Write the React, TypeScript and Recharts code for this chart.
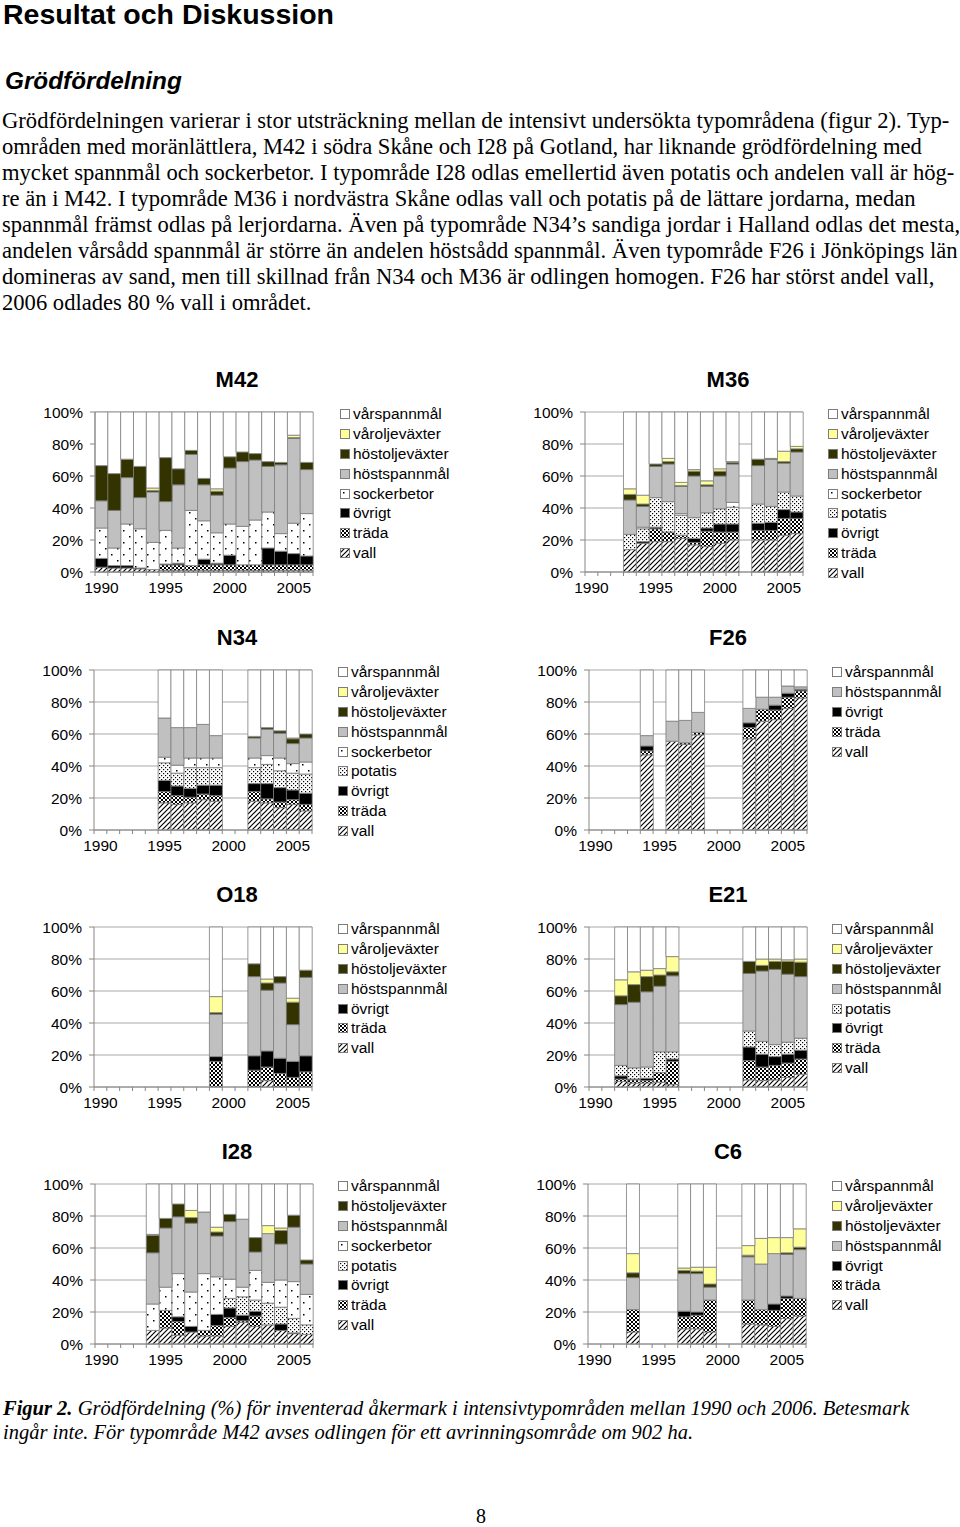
import { BarChart, Bar, XAxis, YAxis, CartesianGrid } from "recharts";

const _ = null;

const YEARS = [1990, 1991, 1992, 1993, 1994, 1995, 1996, 1997, 1998, 1999, 2000, 2001, 2002, 2003, 2004, 2005, 2006];
const LABEL_YEARS = [1990, 1995, 2000, 2005];
const Y_TICKS = [0, 20, 40, 60, 80, 100];

// M42
const M42_VALL = [3, 2.5, 2.5, 2, 1.5, 1, 1, 1, 1, 1, 1, 1, 1, 1, 1, 1, 1];
const M42_TRADA = [0, 0, 0, 0, 0, 3.5, 3.5, 3, 3.5, 3.5, 3.5, 3.5, 3.5, 3.5, 3.5, 3.5, 3.5];
const M42_OVRIGT = [5.5, 1.5, 1.5, 0.5, 0, 0.5, 1, 0, 3.5, 1, 6, 0, 0, 10.5, 8.5, 7, 5.5];
const M42_SOCKER = [19, 11, 26, 24.5, 17, 21, 9.5, 34.5, 24, 19, 19.5, 24, 28, 22.5, 11, 19, 26.5];
const M42_HOSTSP = [17, 23.5, 29, 19.5, 31.5, 18, 39.5, 35, 22.5, 23.5, 35, 40.5, 37.5, 28.5, 43, 53, 27.5];
const M42_HOSTOLJE = [22, 23, 11.5, 19.5, 1, 27.5, 10, 2.5, 4, 2.5, 7, 6, 4, 3, 1.5, 0.5, 4.5];
const M42_VAROLJE = [0, 0, 0, 0, 1.5, 0, 0, 0, 0, 1.5, 0, 0, 0, 0, 0, 1.5, 0];
const M42_VARSP = [33.5, 38.5, 29.5, 34, 47.5, 28.5, 35.5, 24, 41.5, 48, 28, 25, 26, 31, 31.5, 14.5, 31.5];

// M36
const M36_VALL = [_, _, _, 14, 18, 19, 19, 21, 17, 16, 18, 20, _, 20, 20, 23, 24];
const M36_TRADA = [_, _, _, 0, 0, 8, 6, 2, 1.5, 9.5, 7, 5, _, 6, 6, 10.5, 9.5];
const M36_OVRIGT = [_, _, _, 0, 1, 1, 0, 0, 2.5, 2, 5, 5, _, 4.5, 5, 5.5, 4];
const M36_POTATIS = [_, _, _, 9.5, 8, 18.5, 19, 12.5, 13, 9.5, 9.5, 10.5, _, 12, 10, 11, 10];
const M36_SOCKER = [_, _, _, 0, 1, 0, 0, 1, 0, 0, 0, 3, _, 0, 0, 0, 0];
const M36_HOSTSP = [_, _, _, 21.5, 13, 19.5, 23.5, 17, 26, 16.5, 20.5, 24, _, 24, 29.5, 18, 27.5];
const M36_HOSTOLJE = [_, _, _, 3.5, 1.5, 1.5, 1.5, 0.5, 3, 1, 3, 1, _, 4, 0.5, 1, 2];
const M36_VAROLJE = [_, _, _, 3.5, 5.5, 0, 2, 2, 1, 2.5, 1.5, 0.5, _, 0, 0, 6.5, 1.5];
const M36_VARSP = [_, _, _, 48, 52, 32.5, 29, 44, 36, 43, 35.5, 31, _, 29.5, 29, 24.5, 21.5];

// N34
const N34_VALL = [_, _, _, _, _, 17, 16, 17, 19, 18, _, _, 18, 17, 14, 16, 12];
const N34_TRADA = [_, _, _, _, _, 7, 5.5, 3.5, 3.5, 3.5, _, _, 6, 2.5, 3.5, 3, 4];
const N34_OVRIGT = [_, _, _, _, _, 7, 6, 5.5, 5.5, 6.5, _, _, 5, 9.5, 9, 6, 7];
const N34_POTATIS = [_, _, _, _, _, 11, 8, 13, 11, 11, _, _, 10, 12, 10.5, 10.5, 12];
const N34_SOCKER = [_, _, _, _, _, 3.5, 5, 6, 6, 6, _, _, 6, 5.5, 8, 6, 7.5];
const N34_HOSTSP = [_, _, _, _, _, 24.5, 23.5, 19, 21, 14, _, _, 12.5, 16.5, 15.5, 12.5, 15];
const N34_HOSTOLJE = [_, _, _, _, _, 0, 0, 0, 0, 0, _, _, 1, 1, 1.5, 3, 2.5];
const N34_VAROLJE = [_, _, _, _, _, 0, 0, 0, 0, 0, _, _, 0, 0, 0, 0.5, 0];
const N34_VARSP = [_, _, _, _, _, 30, 36, 36, 34, 41, _, _, 41.5, 36, 38, 42.5, 40];

// F26
const F26_VALL = [_, _, _, _, 47, _, 55.5, 53.5, 59.5, _, _, _, 57, 68, 69, 76, 82.5];
const F26_TRADA = [_, _, _, _, 2.5, _, 0, 1, 1.5, _, _, _, 7, 7.5, 6, 7, 4.5];
const F26_OVRIGT = [_, _, _, _, 3, _, 0, 0, 0, _, _, _, 3, 0, 3, 2.5, 1];
const F26_HOSTSP = [_, _, _, _, 6.5, _, 12.5, 14, 12.5, _, _, _, 9, 7.5, 5, 4.5, 1.5];
const F26_VARSP = [_, _, _, _, 41, _, 32, 31.5, 26.5, _, _, _, 24, 17, 17, 10, 10.5];

// O18
const O18_VALL = [_, _, _, _, _, _, _, _, _, 0, _, _, 0, 4, 0, 0, 0];
const O18_TRADA = [_, _, _, _, _, _, _, _, _, 16, _, _, 10.5, 8.5, 8.5, 6, 9.5];
const O18_OVRIGT = [_, _, _, _, _, _, _, _, _, 3, _, _, 9, 10, 9.5, 10, 10];
const O18_HOSTSP = [_, _, _, _, _, _, _, _, _, 26.5, _, _, 49.5, 38, 47, 23, 49];
const O18_HOSTOLJE = [_, _, _, _, _, _, _, _, _, 1, _, _, 8, 4.5, 4, 14, 4.5];
const O18_VAROLJE = [_, _, _, _, _, _, _, _, _, 10, _, _, 0, 2.5, 0, 2.5, 0];
const O18_VARSP = [_, _, _, _, _, _, _, _, _, 43.5, _, _, 23, 32.5, 31, 44.5, 27];

// E21
const E21_VALL = [_, _, 3.5, 2.5, 2.5, 3, 1.5, _, _, _, _, _, 4.5, 4, 4.5, 6, 8];
const E21_TRADA = [_, _, 1.5, 2, 1.5, 6, 14.5, _, _, _, _, _, 12, 8.5, 9, 9, 9.5];
const E21_OVRIGT = [_, _, 2, 0.5, 1.5, 0, 1.5, _, _, _, _, _, 8.5, 8, 5.5, 5.5, 5.5];
const E21_POTATIS = [_, _, 6.5, 7, 7, 13, 4.5, _, _, _, _, _, 10, 8, 7.5, 7.5, 7.5];
const E21_HOSTSP = [_, _, 38, 41, 47, 41, 47.5, _, _, _, _, _, 36, 44, 47, 42.5, 38.5];
const E21_HOSTOLJE = [_, _, 5.5, 11, 9.5, 7, 2.5, _, _, _, _, _, 7.5, 3.5, 5, 8, 9];
const E21_VAROLJE = [_, _, 10, 8, 4, 4, 9.5, _, _, _, _, _, 0, 4, 1.5, 1, 2];
const E21_VARSP = [_, _, 33, 28, 27, 26, 18.5, _, _, _, _, _, 21.5, 20, 20, 20.5, 20];

// I28
const I28_VALL = [_, _, _, _, 8.5, 10, 5.5, 7.5, 5, 5, 11, 13.5, 11, 12, 8.5, 6.5, 6];
const I28_TRADA = [_, _, _, _, 0, 11, 8.5, 0, 3.5, 6.5, 5.5, 1, 6.5, 0, 0, 0, 0];
const I28_OVRIGT = [_, _, _, _, 0, 0, 3, 3.5, 0, 7, 6, 3.5, 3, 0, 4, 0.5, 0];
const I28_POTATIS = [_, _, _, _, 0, 0, 0, 0, 0, 0, 6, 11.5, 7, 13.5, 10.5, 9, 6];
const I28_SOCKER = [_, _, _, _, 16.5, 14.5, 27, 21.5, 35.5, 23.5, 12, 6, 18.5, 13, 17, 23, 19];
const I28_HOSTSP = [_, _, _, _, 32, 37, 35.5, 43, 38.5, 25.5, 36, 42.5, 11.5, 30.5, 22.5, 34, 19];
const I28_HOSTOLJE = [_, _, _, _, 11, 6, 8, 3.5, 0, 2.5, 4.5, 0, 9, 0, 8.5, 7.5, 2.5];
const I28_VAROLJE = [_, _, _, _, 0.5, 0, 0, 4.5, 0, 3, 0, 0, 0, 5, 1.5, 0, 0];
const I28_VARSP = [_, _, _, _, 31.5, 21.5, 12.5, 16.5, 17.5, 27, 19, 22, 33.5, 26, 27.5, 19.5, 47.5];

// C6
const C6_VALL = [_, _, _, 7.5, _, _, _, 9.5, 9.5, 7.5, _, _, 12.5, 12, 11, 16, 17.5];
const C6_TRADA = [_, _, _, 14, _, _, _, 7.5, 8.5, 20, _, _, 15, 9.5, 10, 12.5, 11];
const C6_OVRIGT = [_, _, _, 0, _, _, _, 3.5, 2, 0, _, _, 0, 0, 4, 1.5, 0];
const C6_HOSTSP = [_, _, _, 20, _, _, _, 23.5, 24, 8, _, _, 27, 28.5, 31.5, 26, 30.5];
const C6_HOSTOLJE = [_, _, _, 3, _, _, _, 2, 1.5, 2, _, _, 1, 0, 0, 1, 1.5];
const C6_VAROLJE = [_, _, _, 12, _, _, _, 1.5, 2.5, 10.5, _, _, 6, 16, 10, 9.5, 11.5];
const C6_VARSP = [_, _, _, 43.5, _, _, _, 52.5, 52, 52, _, _, 38.5, 34, 33.5, 33.5, 28];

type Key = "vall" | "trada" | "ovrigt" | "potatis" | "socker" | "hostsp" | "hostolje" | "varolje" | "varsp";
type Values = (number | null)[];

const LABELS: Record<Key, string> = {
  varsp: "vårspannmål",
  varolje: "våroljeväxter",
  hostolje: "höstoljeväxter",
  hostsp: "höstspannmål",
  socker: "sockerbetor",
  potatis: "potatis",
  ovrigt: "övrigt",
  trada: "träda",
  vall: "vall",
};

const FILLS: Record<Key, string> = {
  vall: "url(#pat-vall)",
  trada: "url(#pat-trada)",
  ovrigt: "#000000",
  potatis: "url(#pat-potatis)",
  socker: "url(#pat-socker)",
  hostsp: "#c0c0c0",
  hostolje: "#333300",
  varolje: "#ffff99",
  varsp: "#ffffff",
};

// bottom to top
const STACK: Key[] = ["vall", "trada", "ovrigt", "potatis", "socker", "hostsp", "hostolje", "varolje", "varsp"];

type Panel = {
  title: string;
  series: Partial<Record<Key, Values>>;
  legend: Key[];
  titleX: number;
  plotLeft: number;
  plotTop: number;
  legendLeft: number;
};

const PANELS: Panel[] = [
  {
    title: "M42",
    series: { vall: M42_VALL, trada: M42_TRADA, ovrigt: M42_OVRIGT, socker: M42_SOCKER, hostsp: M42_HOSTSP, hostolje: M42_HOSTOLJE, varolje: M42_VAROLJE, varsp: M42_VARSP },
    legend: ["varsp", "varolje", "hostolje", "hostsp", "socker", "ovrigt", "trada", "vall"],
    titleX: 237, plotLeft: 95, plotTop: 412, legendLeft: 340,
  },
  {
    title: "M36",
    series: { vall: M36_VALL, trada: M36_TRADA, ovrigt: M36_OVRIGT, potatis: M36_POTATIS, socker: M36_SOCKER, hostsp: M36_HOSTSP, hostolje: M36_HOSTOLJE, varolje: M36_VAROLJE, varsp: M36_VARSP },
    legend: ["varsp", "varolje", "hostolje", "hostsp", "socker", "potatis", "ovrigt", "trada", "vall"],
    titleX: 728, plotLeft: 585, plotTop: 412, legendLeft: 828,
  },
  {
    title: "N34",
    series: { vall: N34_VALL, trada: N34_TRADA, ovrigt: N34_OVRIGT, potatis: N34_POTATIS, socker: N34_SOCKER, hostsp: N34_HOSTSP, hostolje: N34_HOSTOLJE, varolje: N34_VAROLJE, varsp: N34_VARSP },
    legend: ["varsp", "varolje", "hostolje", "hostsp", "socker", "potatis", "ovrigt", "trada", "vall"],
    titleX: 237, plotLeft: 94, plotTop: 670, legendLeft: 338,
  },
  {
    title: "F26",
    series: { vall: F26_VALL, trada: F26_TRADA, ovrigt: F26_OVRIGT, hostsp: F26_HOSTSP, varsp: F26_VARSP },
    legend: ["varsp", "hostsp", "ovrigt", "trada", "vall"],
    titleX: 728, plotLeft: 589, plotTop: 670, legendLeft: 832,
  },
  {
    title: "O18",
    series: { vall: O18_VALL, trada: O18_TRADA, ovrigt: O18_OVRIGT, hostsp: O18_HOSTSP, hostolje: O18_HOSTOLJE, varolje: O18_VAROLJE, varsp: O18_VARSP },
    legend: ["varsp", "varolje", "hostolje", "hostsp", "ovrigt", "trada", "vall"],
    titleX: 237, plotLeft: 94, plotTop: 927, legendLeft: 338,
  },
  {
    title: "E21",
    series: { vall: E21_VALL, trada: E21_TRADA, ovrigt: E21_OVRIGT, potatis: E21_POTATIS, hostsp: E21_HOSTSP, hostolje: E21_HOSTOLJE, varolje: E21_VAROLJE, varsp: E21_VARSP },
    legend: ["varsp", "varolje", "hostolje", "hostsp", "potatis", "ovrigt", "trada", "vall"],
    titleX: 728, plotLeft: 589, plotTop: 927, legendLeft: 832,
  },
  {
    title: "I28",
    series: { vall: I28_VALL, trada: I28_TRADA, ovrigt: I28_OVRIGT, potatis: I28_POTATIS, socker: I28_SOCKER, hostsp: I28_HOSTSP, hostolje: I28_HOSTOLJE, varolje: I28_VAROLJE, varsp: I28_VARSP },
    legend: ["varsp", "hostolje", "hostsp", "socker", "potatis", "ovrigt", "trada", "vall"],
    titleX: 237, plotLeft: 95, plotTop: 1184, legendLeft: 338,
  },
  {
    title: "C6",
    series: { vall: C6_VALL, trada: C6_TRADA, ovrigt: C6_OVRIGT, hostsp: C6_HOSTSP, hostolje: C6_HOSTOLJE, varolje: C6_VAROLJE, varsp: C6_VARSP },
    legend: ["varsp", "varolje", "hostolje", "hostsp", "ovrigt", "trada", "vall"],
    titleX: 728, plotLeft: 588, plotTop: 1184, legendLeft: 832,
  },
];

const PARAGRAPH = [
  "Grödfördelningen varierar i stor utsträckning mellan de intensivt undersökta typområdena (figur 2). Typ-",
  "områden med moränlättlera, M42 i södra Skåne och I28 på Gotland, har liknande grödfördelning med",
  "mycket spannmål och sockerbetor. I typområde I28 odlas emellertid även potatis och andelen vall är hög-",
  "re än i M42. I typområde M36 i nordvästra Skåne odlas vall och potatis på de lättare jordarna, medan",
  "spannmål främst odlas på lerjordarna. Även på typområde N34’s sandiga jordar i Halland odlas det mesta,",
  "andelen vårsådd spannmål är större än andelen höstsådd spannmål. Även typområde F26 i Jönköpings län",
  "domineras av sand, men till skillnad från N34 och M36 är odlingen homogen. F26 har störst andel vall,",
  "2006 odlades 80 % vall i området.",
];

const SANS = "'Liberation Sans', Arial, sans-serif";
const SERIF = "'Liberation Serif', 'Times New Roman', serif";
const AXIS = "#868686";
const TICK_GAP = 10; // tickSize + tickMargin on the x axis

function Patterns() {
  return (
    <svg width={0} height={0} style={{ position: "absolute" }}>
      <defs>
        <pattern id="pat-vall" width={5} height={5} patternUnits="userSpaceOnUse">
          <rect width={5} height={5} fill="#fff" />
          <path d="M-1,1 l2,-2 M0,5 l5,-5 M4,6 l2,-2" stroke="#000" strokeWidth={1.2} />
        </pattern>
        <pattern id="pat-trada" width={4} height={4} patternUnits="userSpaceOnUse">
          <rect width={4} height={4} fill="#fff" />
          <rect width={2} height={2} fill="#000" />
          <rect x={2} y={2} width={2} height={2} fill="#000" />
        </pattern>
        <pattern id="pat-potatis" width={4} height={4} patternUnits="userSpaceOnUse">
          <rect width={4} height={4} fill="#fff" />
          <rect width={1.2} height={1.2} fill="#000" />
          <rect x={2} y={2} width={1.2} height={1.2} fill="#000" />
        </pattern>
        <pattern id="pat-socker" width={12} height={12} patternUnits="userSpaceOnUse">
          <rect width={12} height={12} fill="#fff" />
          <rect x={3} y={3} width={1.5} height={1.5} fill="#000" />
          <rect x={9} y={9} width={1.5} height={1.5} fill="#000" />
        </pattern>
      </defs>
    </svg>
  );
}

function YearTick(props: any) {
  const { x, y, payload, index, visibleTicksCount } = props;
  const half = payload.offset || 0;
  const axisY = y - TICK_GAP;
  const year = payload.value as number;
  return (
    <g>
      <line x1={x - half} x2={x - half} y1={axisY} y2={axisY + 4} stroke={AXIS} />
      {index === visibleTicksCount - 1 && (
        <line x1={x + half} x2={x + half} y1={axisY} y2={axisY + 4} stroke={AXIS} />
      )}
      {LABEL_YEARS.includes(year) && (
        <text x={x} y={y} dy="0.71em" textAnchor="middle" fill="#000" fontSize={15.5} fontFamily={SANS}>
          {year}
        </text>
      )}
    </g>
  );
}

function CropChart({ panel }: { panel: Panel }) {
  const keys = STACK.filter((k) => panel.series[k]);
  const data = YEARS.map((year, i) => {
    const row: Record<string, number | null> = { year };
    keys.forEach((k) => {
      row[k] = panel.series[k]![i];
    });
    return row;
  });

  return (
    <>
      <div
        style={{
          position: "absolute",
          left: panel.titleX - 60,
          width: 120,
          top: panel.plotTop - 45,
          textAlign: "center",
          font: `bold 22px ${SANS}`,
          lineHeight: "26px",
        }}
      >
        {panel.title}
      </div>
      <div style={{ position: "absolute", left: panel.plotLeft - 95, top: panel.plotTop - 17, fontFamily: SANS }}>
        <BarChart
          width={95 + 218 + 6}
          height={205}
          data={data}
          margin={{ top: 17, right: 6, bottom: 0, left: 0 }}
          barCategoryGap={0}
          barGap={0}
          style={{ fontFamily: SANS }}
        >
          <CartesianGrid vertical={false} stroke="#a8a8a8" />
          <XAxis
            dataKey="year"
            interval={0}
            height={28}
            tickSize={4}
            tickMargin={6}
            tickLine={false}
            axisLine={{ stroke: AXIS }}
            tick={(p: any) => <YearTick {...p} />}
          />
          <YAxis
            domain={[0, 100]}
            ticks={Y_TICKS}
            width={95}
            tickSize={5}
            tickMargin={7}
            tickFormatter={(v: number) => `${v}%`}
            tick={{ fill: "#000", fontSize: 15.5, fontFamily: SANS }}
            tickLine={{ stroke: AXIS }}
            axisLine={{ stroke: AXIS }}
          />
          <YAxis yAxisId="r" orientation="right" domain={[0, 100]} width={0} tick={false} tickLine={false} axisLine={{ stroke: AXIS }} />
          {keys.map((k) => (
            <Bar key={k} dataKey={k} stackId="s" fill={FILLS[k]} stroke="#7c7c7c" strokeWidth={0.8} isAnimationActive={false} />
          ))}
        </BarChart>
      </div>
      <div style={{ position: "absolute", left: panel.legendLeft, top: panel.plotTop - 7.5 }}>
        {panel.legend.map((k) => (
          <div key={k} style={{ height: 19.8, display: "flex", alignItems: "center", font: `15.5px ${SANS}` }}>
            <svg width={10} height={10} style={{ marginRight: 3 }}>
              <rect x={0.5} y={0.5} width={9} height={9} fill={FILLS[k]} stroke="#7c7c7c" />
            </svg>
            <span>{LABELS[k]}</span>
          </div>
        ))}
      </div>
    </>
  );
}

export default function App() {
  return (
    <div style={{ position: "relative", width: 960, height: 1527, background: "#fff", overflow: "hidden" }}>
      <style>{`body{margin:0}`}</style>
      <Patterns />
      <div style={{ position: "absolute", left: 3, top: -1, font: `bold 28.5px ${SANS}`, lineHeight: "30px", whiteSpace: "nowrap" }}>
        Resultat och Diskussion
      </div>
      <div style={{ position: "absolute", left: 5, top: 67, font: `italic bold 24.3px ${SANS}`, lineHeight: "28px", whiteSpace: "nowrap" }}>
        Grödfördelning
      </div>
      {PARAGRAPH.map((line, i) => (
        <div
          key={i}
          style={{
            position: "absolute",
            left: 2,
            top: 108 + i * 26,
            font: `22.6px ${SERIF}`,
            lineHeight: "26px",
            whiteSpace: "nowrap",
          }}
        >
          {line}
        </div>
      ))}
      {PANELS.map((p) => (
        <CropChart key={p.title} panel={p} />
      ))}
      <div style={{ position: "absolute", left: 3, top: 1396, font: `italic 20.5px ${SERIF}`, lineHeight: "24px", whiteSpace: "nowrap" }}>
        <b>Figur 2.</b> Grödfördelning (%) för inventerad åkermark i intensivtypområden mellan 1990 och 2006. Betesmark
        <br />
        ingår inte. För typområde M42 avses odlingen för ett avrinningsområde om 902 ha.
      </div>
      <div style={{ position: "absolute", left: 0, width: 962, top: 1505, textAlign: "center", font: `20px ${SERIF}` }}>8</div>
    </div>
  );
}
